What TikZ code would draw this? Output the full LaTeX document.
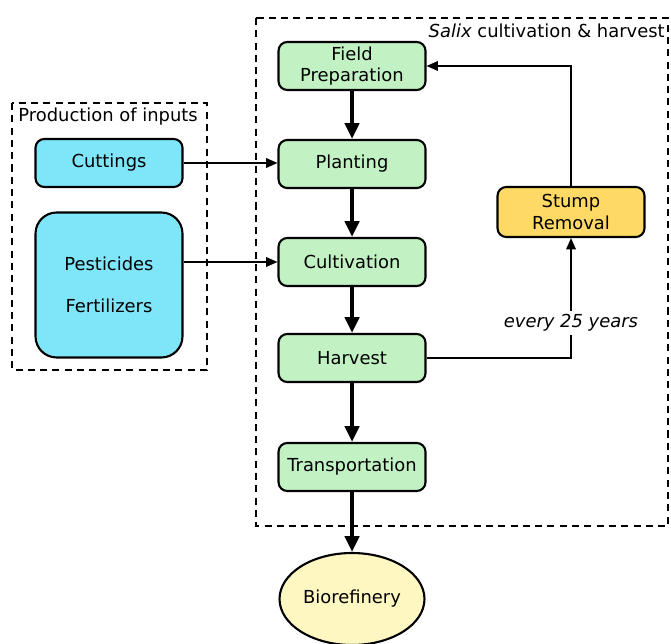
\documentclass[tikz,border=0pt]{standalone}
\usepackage{fontspec}
\setmainfont{DejaVu Sans}
\usepackage{tikz}
\usetikzlibrary{positioning, shapes, arrows.meta}

\definecolor{stepgreen}{HTML}{C2F2C4}
\definecolor{inputcyan}{HTML}{7FE6FA}
\definecolor{stumporange}{HTML}{FFD966}
\definecolor{refinery}{HTML}{FFF7C2}

\tikzset{
  stepbox/.style={draw, line width=1.2pt, rounded corners=5pt, fill=stepgreen,
    minimum width=2.94cm, minimum height=0.96cm, align=center, inner sep=1pt},
  inputbox/.style={stepbox, fill=inputcyan},
  flow/.style={-{Triangle[length=9pt, width=8pt]}, line width=2.4pt},
  feed/.style={-{Triangle[length=6.5pt, width=5.5pt]}, line width=0.9pt},
  group/.style={line width=1.2pt, dash pattern=on 4pt off 3pt}
}

\begin{document}
\begin{tikzpicture}[x=0.02cm, y=-0.02cm, font=\fontsize{10.2}{12}\selectfont]
\useasboundingbox (0, 0) rectangle (671, 644);

% groups
\draw[group] (256, 18) rectangle (668, 526);
\draw[group] (12, 103) rectangle (207, 370);
\node[anchor=east, inner sep=0pt] (salix) at (665, 31) {\textit{Salix} cultivation \& harvest};
\node[anchor=west, inner sep=0pt] (prod) at (18, 117) {Production of inputs};

% main chain
\node[stepbox] (field) at (352, 66) {Field\\Preparation};
\node[stepbox] (plant) at (352, 164) {Planting};
\node[stepbox] (cult) at (352, 262) {Cultivation};
\node[stepbox] (harv) at (352, 358) {Harvest};
\node[stepbox] (trans) at (352, 467) {Transportation};
\node[draw, ellipse, line width=1.2pt, fill=refinery, inner sep=0pt,
  minimum width=2.9cm, minimum height=1.84cm] (bio) at (352, 599) {Biorefinery};

\node[stepbox, fill=stumporange, minimum height=1cm] (stump) at (571, 212) {Stump\\Removal};

% inputs
\node[inputbox] (cut) at (109, 163) {Cuttings};
\node[inputbox, minimum height=2.9cm, rounded corners=12pt] (pest) at (109, 285)
  {Pesticides\\[12pt]Fertilizers};

\draw[flow] (field) -- (plant);
\draw[flow] (plant) -- (cult);
\draw[flow] (cult) -- (harv);
\draw[flow] (harv) -- (trans);
\draw[flow] (trans) -- (bio);

\draw[feed] (cut.east) -- (cut.east -| plant.west);
\draw[feed] (pest.east |- cult.west) -- (cult.west);

% stump loop
\draw[feed] (harv.east) -| node[pos=0.645, fill=white, inner sep=2pt] (every) {\textit{every 25 years}} (stump.south);
\draw[feed] (stump.north) |- (field.east);
\end{tikzpicture}
\end{document}
